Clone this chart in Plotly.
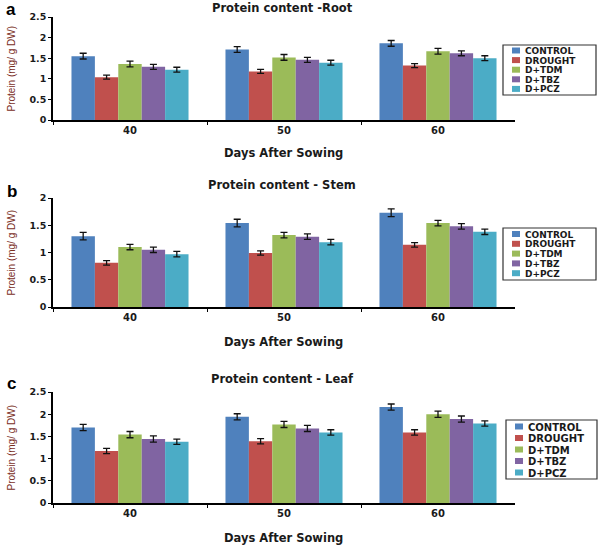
import plotly.graph_objects as go

days = ["40", "50", "60"]
treatments = ["CONTROL", "DROUGHT", "D+TDM", "D+TBZ", "D+PCZ"]
colors = ["#4F81BD", "#C0504D", "#9BBB59", "#8064A2", "#4BACC6"]

root = {
    "CONTROL": [1.55, 1.71, 1.86],
    "DROUGHT": [1.04, 1.18, 1.32],
    "D+TDM":   [1.36, 1.52, 1.67],
    "D+TBZ":   [1.29, 1.46, 1.62],
    "D+PCZ":   [1.22, 1.39, 1.50],
}
stem = {
    "CONTROL": [1.30, 1.54, 1.73],
    "DROUGHT": [0.81, 0.99, 1.14],
    "D+TDM":   [1.10, 1.32, 1.54],
    "D+TBZ":   [1.05, 1.29, 1.48],
    "D+PCZ":   [0.97, 1.19, 1.38],
}
leaf = {
    "CONTROL": [1.70, 1.94, 2.16],
    "DROUGHT": [1.17, 1.39, 1.59],
    "D+TDM":   [1.54, 1.77, 2.00],
    "D+TBZ":   [1.44, 1.68, 1.89],
    "D+PCZ":   [1.38, 1.59, 1.79],
}
err_root = [0.07, 0.05, 0.07, 0.06, 0.06]
err_stem = [0.07, 0.04, 0.05, 0.05, 0.05]
err_leaf = [0.07, 0.06, 0.07, 0.07, 0.06]

panels = [
    ("a", "Protein content -Root", root, err_root, 2.5, 0.5),
    ("b", "Protein content - Stem", stem, err_stem, 2.0, 0.5),
    ("c", "Protein content - Leaf", leaf, err_leaf, 2.5, 0.5),
]

W, H = 600, 546
def px(x): return x / W
def py(y): return 1 - y / H

# layout boxes (page pixels)
ydoms = [(17, 120), (198, 307), (392, 503)]
xdom = [px(53), px(515)]
# legend: (left, top, right, bottom, first item y, item spacing, font size)
legend_boxes = [(503, 45, 596, 95, 50.5, 9.6, 9),
                (503, 228, 596, 280, 234, 9.8, 9),
                (506, 420, 597, 479, 426.5, 11.5, 10)]
title_y = [8, 185, 379]
letter_pos = [(11, 9.5), (11.5, 191), (11.5, 383)]
xtitle_y = [153, 342, 538]
ticklab_font = dict(family="DejaVu Sans", size=9.5, color="#1a1a1a", weight="bold")


def note(text, x, y, size, family="DejaVu Sans", color="#1a1a1a", weight="bold",
         xanchor="center", angle=0):
    return dict(text=text, x=px(x), y=py(y), xref="paper", yref="paper",
                showarrow=False, xanchor=xanchor, yanchor="middle", textangle=angle,
                borderpad=0,
                font=dict(family=family, size=size, color=color, weight=weight))


fig = go.Figure()
annotations = []
shapes = []
for i, (letter, title, data, errs, ymax, dtick) in enumerate(panels):
    ax = "" if i == 0 else str(i + 1)
    for j, t in enumerate(treatments):
        fig.add_trace(go.Bar(
            x=days, y=data[t], name=t, showlegend=False,
            marker=dict(color=colors[j], line=dict(width=0)),
            error_y=dict(type="constant", value=errs[j], color="#111111",
                         thickness=1.3, width=3.5),
            xaxis="x" + ax, yaxis="y" + ax,
        ))
    top, bot = ydoms[i]
    fig.update_layout(**{
        "xaxis" + ax: dict(domain=xdom, anchor="y" + ax, showline=True,
                           linecolor="black", linewidth=1.5, ticks="outside",
                           tickson="boundaries", ticklen=3, tickcolor="black",
                           tickfont=dict(ticklab_font, size=10), showgrid=False,
                           automargin=False),
        "yaxis" + ax: dict(domain=[py(bot), py(top)], anchor="x" + ax,
                           range=[0, ymax], dtick=dtick, showline=True,
                           linecolor="black", linewidth=1.5, ticks="outside",
                           ticklen=3, tickcolor="black", tickfont=ticklab_font,
                           showgrid=False, zeroline=False, automargin=False),
    })
    # compact legend drawn as a box with swatches and labels
    l, t0, r, b, y0, dy, fs = legend_boxes[i]
    shapes.append(dict(type="rect", xref="paper", yref="paper",
                       x0=px(l), x1=px(r), y0=py(b), y1=py(t0),
                       line=dict(color="#333333", width=1.2), fillcolor="white",
                       layer="above"))
    for j, t in enumerate(treatments):
        yc = y0 + j * dy
        shapes.append(dict(type="rect", xref="paper", yref="paper",
                           x0=px(l + 9), x1=px(l + 17), y0=py(yc + 3), y1=py(yc - 3),
                           line=dict(width=0), fillcolor=colors[j], layer="above"))
        annotations.append(note(t, l + 21, yc + 0.5, fs, xanchor="left"))
    annotations.append(note(title, 282, title_y[i], 11.5))
    lx, ly = letter_pos[i]
    annotations.append(note(letter, lx, ly, 17, family="Liberation Sans", color="black"))
    annotations.append(note("Days After Sowing", 283, xtitle_y[i], 11.5))
    annotations.append(note("Protein (mg/ g DW)", 11, (top + bot) / 2, 10,
                            family="Liberation Sans Narrow, Liberation Sans",
                            color="#7a2e1e", weight="normal", angle=-90))

fig.update_layout(
    width=W, height=H, margin=dict(l=0, r=0, t=0, b=0),
    paper_bgcolor="white", plot_bgcolor="white",
    barmode="group", bargap=0.24, bargroupgap=0,
    annotations=annotations, shapes=shapes, showlegend=False,
)
# remove the page's default body margin so the 600x546 figure fills the window
fig.write_html("out.html", config={"displayModeBar": False},
               post_script="document.body.style.margin='0';")
